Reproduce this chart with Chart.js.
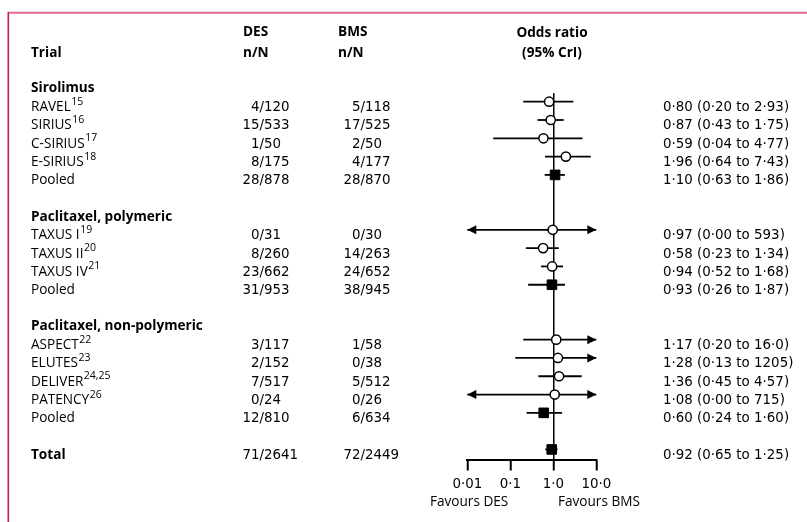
<!DOCTYPE html>
<html><head><meta charset="utf-8">
<script src="https://cdn.jsdelivr.net/npm/chart.js@4/dist/chart.umd.min.js"></script>
<style>html,body{margin:0;padding:0;background:#fff;} canvas{display:block}</style>
</head><body>
<canvas id="c" width="807" height="522"></canvas>
<script>
// ---- data ----
const groupNames = ['Sirolimus', 'Paclitaxel, polymeric', 'Paclitaxel, non-polymeric'];
const groupSizes = [5, 4, 5];
const trialNames = ['RAVEL','SIRIUS','C-SIRIUS','E-SIRIUS','Pooled','TAXUS I','TAXUS II','TAXUS IV','Pooled','ASPECT','ELUTES','DELIVER','PATENCY','Pooled','Total'];
const trialRefs = ['15','16','17','18','','19','20','21','','22','23','24,25','26','',''];
const desEvents = [4,15,1,8,28,0,8,23,31,3,2,7,0,12,71];
const desTotals = [120,533,50,175,878,31,260,662,953,117,152,517,24,810,2641];
const bmsEvents = [5,17,2,4,28,0,14,24,38,1,0,5,0,6,72];
const bmsTotals = [118,525,50,177,870,30,263,652,945,58,38,512,26,634,2449];
const oddsRatio = [0.80,0.87,0.59,1.96,1.10,0.97,0.58,0.94,0.93,1.17,1.28,1.36,1.08,0.60,0.92];
const ciLow  = [0.20,0.43,0.04,0.64,0.63,0.00,0.23,0.52,0.26,0.20,0.13,0.45,0.00,0.24,0.65];
const ciHigh = [2.93,1.75,4.77,7.43,1.86,593,1.34,1.68,1.87,16.0,1205,4.57,715,1.60,1.25];
const axisTicks = [0.01, 0.1, 1, 10];
const axisTickLabels = ['0·01', '0·1', '1·0', '10·0'];

// ---- row layout ----
const headerRows = [];
const rows = [];
let r = 0;
groupSizes.forEach(n => { headerRows.push(r++); for (let i = 0; i < n; i++) rows.push(r++); r++; });
rows.push(r); // Total
const isSummary = trialNames.map(n => n === 'Pooled' || n === 'Total');
const fmt = v => (v >= 100 ? String(Math.round(v)) : v >= 10 ? v.toFixed(1) : v.toFixed(2)).replace('.', '·');

const LABEL_FONT = '13.6px "Open Sans"';
const BOLD_FONT = 'bold 13.6px "Open Sans"';
const NUM_FONT = '13.4px "DejaVu Sans"';
const SUP_FONT = '10.5px "Open Sans"';

const ciPlugin = {
  id: 'ci',
  beforeDatasetsDraw(chart) {
    const {ctx} = chart; const xs = chart.scales.x, ys = chart.scales.y;
    ctx.save(); ctx.strokeStyle = '#000'; ctx.fillStyle = '#000'; ctx.lineWidth = 1.8;
    rows.forEach((row, i) => {
      const y = ys.getPixelForValue(row);
      const lo = Math.max(ciLow[i], xs.min), hi = Math.min(ciHigh[i], xs.max);
      const x1 = xs.getPixelForValue(lo), x2 = xs.getPixelForValue(hi);
      ctx.beginPath(); ctx.moveTo(x1, y); ctx.lineTo(x2, y); ctx.stroke();
      if (ciLow[i] < xs.min) { ctx.beginPath(); ctx.moveTo(x1, y); ctx.lineTo(x1 + 9, y - 4.5); ctx.lineTo(x1 + 9, y + 4.5); ctx.closePath(); ctx.fill(); }
      if (ciHigh[i] > xs.max) { ctx.beginPath(); ctx.moveTo(x2, y); ctx.lineTo(x2 - 9, y - 4.5); ctx.lineTo(x2 - 9, y + 4.5); ctx.closePath(); ctx.fill(); }
    });
    ctx.restore();
  }
};

const textPlugin = {
  id: 'texts',
  afterDraw(chart) {
    const {ctx} = chart; const ys = chart.scales.y;
    ctx.save();
    // frame
    ctx.strokeStyle = '#e26b8d'; ctx.lineWidth = 2;
    ctx.beginPath(); ctx.moveTo(8, 12.7); ctx.lineTo(807, 12.7); ctx.stroke();
    ctx.strokeStyle = '#cf1a4c'; ctx.lineWidth = 1.6;
    ctx.beginPath(); ctx.moveTo(8.3, 12); ctx.lineTo(8.3, 522); ctx.stroke();

    ctx.fillStyle = '#000'; ctx.textBaseline = 'alphabetic';
    // column headers
    ctx.font = BOLD_FONT; ctx.textAlign = 'left';
    ctx.fillText('Trial', 31, 57);
    ctx.fillText('DES', 243, 36); ctx.fillText('n/N', 243, 57);
    ctx.fillText('BMS', 338, 36); ctx.fillText('n/N', 338, 57);
    ctx.textAlign = 'center';
    ctx.fillText('Odds ratio', 552, 36.5);
    ctx.fillText('(95% CrI)', 552, 57);

    // group headers
    ctx.textAlign = 'left'; ctx.font = BOLD_FONT;
    headerRows.forEach((row, g) => ctx.fillText(groupNames[g], 31, ys.getPixelForValue(row) + 9));

    // rows
    rows.forEach((row, i) => {
      const y = ys.getPixelForValue(row) + 9.5;
      ctx.textAlign = 'left';
      ctx.font = trialNames[i] === 'Total' ? BOLD_FONT : LABEL_FONT;
      ctx.fillText(trialNames[i], 31, y);
      if (trialRefs[i]) {
        const w = ctx.measureText(trialNames[i]).width;
        ctx.font = SUP_FONT; ctx.fillText(trialRefs[i], 31 + w + 0.5, y - 6.5);
      }
      ctx.font = NUM_FONT;
      ctx.textAlign = 'right';
      ctx.fillText(String(desEvents[i]), 259.5, y);
      ctx.fillText(String(bmsEvents[i]), 360.5, y);
      ctx.textAlign = 'left';
      ctx.fillText('/' + desTotals[i], 259.5, y);
      ctx.fillText('/' + bmsTotals[i], 360.5, y);
      ctx.fillText(fmt(oddsRatio[i]) + ' (' + fmt(ciLow[i]) + ' to ' + fmt(ciHigh[i]) + ')', 663, y);
    });

    // axis captions
    ctx.font = LABEL_FONT; ctx.textAlign = 'left';
    ctx.fillText('Favours DES', 430, 506);
    ctx.fillText('Favours BMS', 558, 506);
    ctx.restore();
  }
};

new Chart(document.getElementById('c'), {
  type: 'scatter',
  data: {
    datasets: [
      {
        label: 'Trials',
        data: rows.map((row, i) => ({x: oddsRatio[i], y: row})).filter((p, i) => !isSummary[i]),
        pointStyle: 'circle', pointRadius: 4.6, pointBackgroundColor: '#fff', pointBorderColor: '#000', pointBorderWidth: 1.5
      },
      {
        label: 'Pooled',
        data: rows.map((row, i) => ({x: oddsRatio[i], y: row})).filter((p, i) => isSummary[i]),
        pointStyle: 'rect', pointRadius: 6.8, pointBackgroundColor: '#000', pointBorderColor: '#000', pointBorderWidth: 1
      }
    ]
  },
  options: {
    responsive: false,
    animation: false,
    layout: {padding: {left: 467.3, right: 210.7, top: 93, bottom: 23.4}},
    plugins: {legend: {display: false}, tooltip: {enabled: false}},
    scales: {
      x: {
        type: 'logarithmic', min: 0.01, max: 10, position: 'bottom',
        afterBuildTicks: s => { s.ticks = axisTicks.map(v => ({value: v})); },
        ticks: {
          callback: (v, i) => axisTickLabels[i],
          color: '#000', font: {family: 'DejaVu Sans', size: 13.4}, padding: 6,
          maxRotation: 0, autoSkip: false
        },
        grid: {
          drawOnChartArea: true,
          color: c => (c.tick && c.tick.value === 1 ? '#000' : 'rgba(0,0,0,0)'),
          lineWidth: 1.5, tickColor: '#000', tickWidth: 2, tickLength: 11
        },
        border: {display: true, color: '#000', width: 2}
      },
      y: {type: 'linear', reverse: true, min: 0.525, max: 20.55, display: false}
    }
  },
  plugins: [ciPlugin, textPlugin]
});
</script>
</body></html>
